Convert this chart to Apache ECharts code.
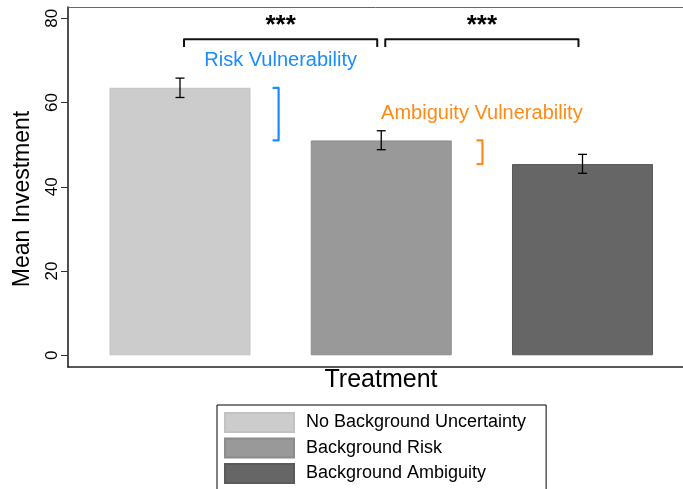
<!DOCTYPE html>
<html>
<head>
<meta charset="utf-8">
<script src="https://cdn.jsdelivr.net/npm/echarts@6/dist/echarts.min.js"></script>
<style>html,body{margin:0;padding:0;background:#fff}#c{width:683px;height:489px}</style>
</head>
<body>
<div id="c"></div>
<script>
// ---- data ----
var categories = ['No Background Uncertainty', 'Background Risk', 'Background Ambiguity'];
var positions = [1, 2, 3];
var means = [63.5, 51.0, 45.4];
var ciLow = [61.2, 48.8, 43.2];
var ciHigh = [65.8, 53.3, 47.7];
var yTicks = [0, 20, 40, 60, 80];
var barColors = ['#cccccc', '#999999', '#666666'];
var barBorders = ['#c2c2c2', '#8c8c8c', '#5a5a5a'];
// significance brackets: [xStart, xEnd, yLine, yTickEnd, yStars]
var sigBrackets = [[1.02, 1.98, 75.0, 73.2, 78.2], [2.02, 2.98, 75.0, 73.2, 78.2]];
var sigLabels = ['***', '***'];
// vulnerability brackets: [x, yTop, yBottom]
var vulnBrackets = [[1.49, 63.5, 51.0], [2.503, 51.0, 45.4]];
var vulnLabels = ['Risk Vulnerability', 'Ambiguity Vulnerability'];
var vulnLabelPos = [[1.50, 70.1], [2.50, 57.5]];
var vulnColors = ['#1a8cff', '#ff8a14'];

var FONT = '"Liberation Sans", Arial, Helvetica, sans-serif';

var chart = echarts.init(document.getElementById('c'), null, {renderer: 'canvas'});

var series = categories.map(function (name, i) {
  return {
    name: name,
    type: 'bar',
    data: [[positions[i], means[i]]],
    barWidth: 141,
    barGap: '-100%',
    itemStyle: {color: barColors[i], borderColor: barBorders[i], borderWidth: 1},
    emphasis: {disabled: true},
    silent: true
  };
});

series.push({
  type: 'custom',
  name: 'ci',
  silent: true,
  z: 10,
  data: positions.map(function (p, i) { return [p, ciLow[i], ciHigh[i]]; }),
  renderItem: function (params, api) {
    var lo = api.coord([api.value(0), api.value(1)]);
    var hi = api.coord([api.value(0), api.value(2)]);
    var w = 4.5;
    var st = {stroke: '#000', lineWidth: 1.3};
    return {type: 'group', children: [
      {type: 'line', shape: {x1: lo[0], y1: lo[1], x2: hi[0], y2: hi[1]}, style: st},
      {type: 'line', shape: {x1: lo[0] - w, y1: lo[1], x2: lo[0] + w, y2: lo[1]}, style: st},
      {type: 'line', shape: {x1: hi[0] - w, y1: hi[1], x2: hi[0] + w, y2: hi[1]}, style: st}
    ]};
  }
});

series.push({
  type: 'custom',
  name: 'sig',
  silent: true,
  z: 10,
  data: sigBrackets,
  renderItem: function (params, api) {
    var a = api.coord([api.value(0), api.value(3)]);
    var b = api.coord([api.value(0), api.value(2)]);
    var c = api.coord([api.value(1), api.value(2)]);
    var d = api.coord([api.value(1), api.value(3)]);
    var s = api.coord([(api.value(0) + api.value(1)) / 2, api.value(4)]);
    return {type: 'group', children: [
      {type: 'polyline', shape: {points: [a, b, c, d]}, style: {stroke: '#111', lineWidth: 2, fill: null, lineJoin: 'round'}},
      {type: 'text', x: s[0], y: s[1], style: {text: sigLabels[params.dataIndex], fill: '#000', font: 'bold 26px ' + FONT, align: 'center', verticalAlign: 'middle'}}
    ]};
  }
});

series.push({
  type: 'custom',
  name: 'vuln',
  silent: true,
  z: 10,
  data: vulnBrackets,
  renderItem: function (params, api) {
    var i = params.dataIndex;
    var t = api.coord([api.value(0), api.value(1)]);
    var b = api.coord([api.value(0), api.value(2)]);
    var serif = 6;
    var lp = api.coord(vulnLabelPos[i]);
    return {type: 'group', children: [
      {type: 'polyline', shape: {points: [[t[0] - serif, t[1]], t, b, [b[0] - serif, b[1]]]}, style: {stroke: vulnColors[i], lineWidth: 2.2, fill: null, lineJoin: 'round'}},
      {type: 'text', x: lp[0], y: lp[1], style: {text: vulnLabels[i], fill: vulnColors[i], font: '20px ' + FONT, align: 'center', verticalAlign: 'middle'}}
    ]};
  }
});

chart.setOption({
  animation: false,
  backgroundColor: '#fff',
  textStyle: {fontFamily: FONT},
  grid: {left: 68, top: 7, right: 0, bottom: 122, show: false},
  xAxis: [{
    type: 'value', min: 0.4435, max: 3.4994, position: 'bottom',
    axisLine: {show: true, onZero: false, lineStyle: {color: '#222', width: 1.6}},
    axisTick: {show: false}, axisLabel: {show: false}, splitLine: {show: false}
  }, {
    type: 'value', min: 0.4435, max: 3.4994, position: 'top',
    axisLine: {show: true, onZero: false, lineStyle: {color: '#666', width: 1}},
    axisTick: {show: false}, axisLabel: {show: false}, splitLine: {show: false}
  }],
  yAxis: {
    type: 'value', min: -2.78, max: 82.68,
    axisLine: {show: true, onZero: false, lineStyle: {color: '#222', width: 1.6}},
    axisTick: {show: true, length: 7, customValues: yTicks, lineStyle: {color: '#333', width: 1}},
    axisLabel: {show: true, customValues: yTicks, rotate: 90, fontSize: 17, color: '#000', margin: 7, fontFamily: FONT},
    splitLine: {show: false}
  },
  legend: {
    data: categories,
    orient: 'vertical',
    left: 217, top: 405, height: 150,
    itemWidth: 69, itemHeight: 19, itemGap: 4.5,
    padding: [7, 20, 7, 7],
    borderColor: '#000', borderWidth: 1,
    icon: 'rect',
    selectedMode: false,
    textStyle: {fontSize: 18, color: '#000', fontFamily: FONT, padding: [0, 0, 0, 7]}
  },
  graphic: [
    {type: 'text', x: 23, y: 199, rotation: Math.PI / 2, style: {text: 'Mean Investment', font: '23px ' + FONT, fill: '#000', align: 'center', verticalAlign: 'middle'}},
    {type: 'text', x: 381, y: 380, style: {text: 'Treatment', font: '25px ' + FONT, fill: '#000', align: 'center', verticalAlign: 'middle'}}
  ],
  series: series
});
</script>
</body>
</html>
